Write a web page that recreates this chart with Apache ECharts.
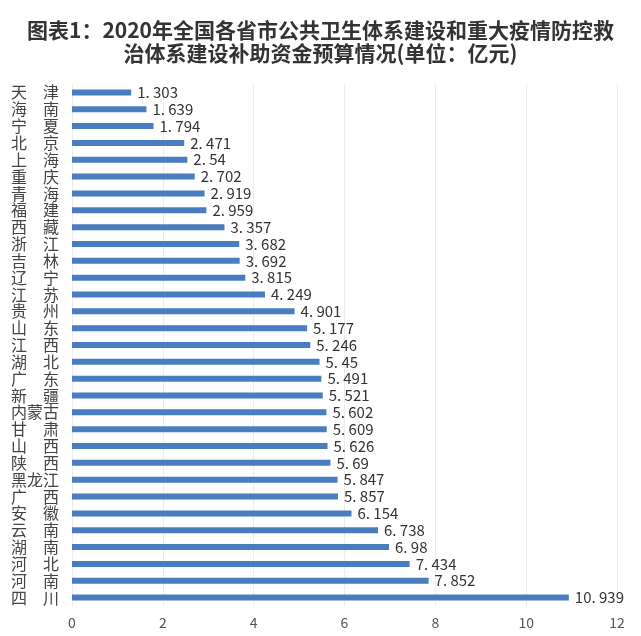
<!DOCTYPE html>
<html><head><meta charset="utf-8">
<script src="https://cdn.jsdelivr.net/npm/echarts@6/dist/echarts.min.js"></script>
<style>html,body{margin:0;padding:0;background:#fff}#c{width:641px;height:636px}</style>
</head><body><div id="c"></div>
<script>
const titleText = "图表1：2020年全国各省市公共卫生体系建设和重大疫情防控救\n治体系建设补助资金预算情况(单位：亿元)";
const provinces = ["天津","海南","宁夏","北京","上海","重庆","青海","福建","西藏","浙江","吉林","辽宁","江苏","贵州","山东","江西","湖北","广东","新疆","内蒙古","甘肃","山西","陕西","黑龙江","广西","安徽","云南","湖南","河北","河南","四川"];
const funds = [1.303,1.639,1.794,2.471,2.54,2.702,2.919,2.959,3.357,3.682,3.692,3.815,4.249,4.901,5.177,5.246,5.45,5.491,5.521,5.602,5.609,5.626,5.69,5.847,5.857,6.154,6.738,6.98,7.434,7.852,10.939];
const xTicks = [0,2,4,6,8,10,12];

const chart = echarts.init(document.getElementById('c'));
chart.setOption({
  backgroundColor:'#fff',
  animation:false,
  title:{
    text:titleText, left:'center', top:14,
    textStyle:{fontFamily:'Noto Sans CJK SC', fontWeight:'bold', fontSize:21, lineHeight:23, color:'#333'}
  },
  grid:{left:72, right:24, top:84, bottom:30},
  xAxis:{
    type:'value', min:xTicks[0], max:xTicks[xTicks.length-1], interval:2,
    axisLine:{show:false}, axisTick:{show:false},
    splitLine:{show:true, lineStyle:{color:'#ececec', width:1}},
    axisLabel:{color:'#555', fontSize:14, margin:10, fontFamily:'Noto Sans CJK SC'}
  },
  yAxis:{
    type:'category', data:provinces, inverse:true,
    axisLine:{show:false}, axisTick:{show:false},
    axisLabel:{
      interval:0, hideOverlap:false,
      color:'#444', fontSize:16, lineHeight:16, align:'left', margin:61, fontFamily:'Noto Sans CJK SC',
      formatter:v=> v.length===2 ? v[0]+'\u3000'+v[1] : v
    }
  },
  series:[{
    type:'bar', data:funds, barWidth:6,
    itemStyle:{color:'#4a7dc0'},
    label:{
      show:true, position:'right', distance:6, color:'#333', fontSize:15, fontFamily:'Noto Sans CJK SC',
      formatter:p=> String(p.value).replace('.', '. ')
    }
  }]
});
</script></body></html>
